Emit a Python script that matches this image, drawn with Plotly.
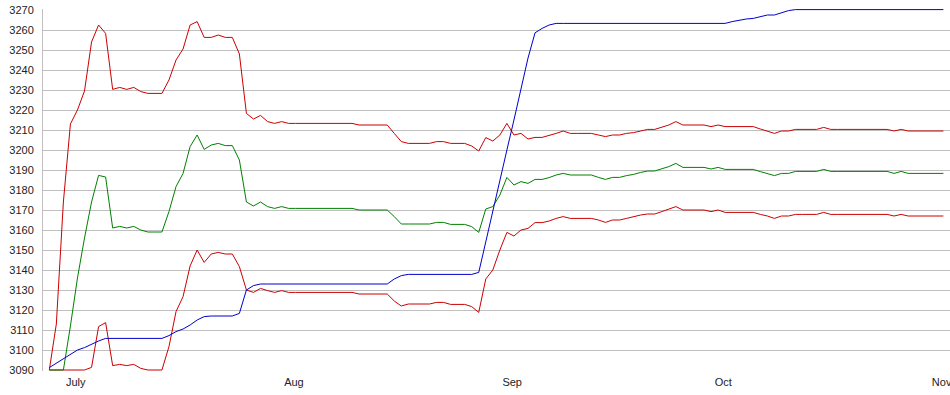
import pandas as pd
import plotly.graph_objects as go

# ---- data ----
start_day = "2013-06-27 12:00"
n_days = 128

upper = [
    3090, 3113, 3174, 3213, 3220, 3229.5, 3254, 3262.5, 3258.3, 3230.3,
    3231.3, 3230.3, 3231.3, 3229.2, 3228.3, 3228.3, 3228.3, 3235, 3245, 3250.5,
    3262.5, 3264.2, 3256.3, 3256.3, 3257.5, 3256.3, 3256.3, 3248, 3218.3, 3215.5,
    3217.3, 3214.2, 3213.3, 3214.2, 3213.3, 3213.3, 3213.3, 3213.3, 3213.3, 3213.3,
    3213.3, 3213.3, 3213.3, 3213.3, 3212.5, 3212.5, 3212.5, 3212.5, 3212.5, 3208.3,
    3204.2, 3203.3, 3203.3, 3203.3, 3203.3, 3204.2, 3204.2, 3203.3, 3203.3, 3203.3,
    3202, 3199.5, 3206.2, 3204.5, 3207.5, 3213.3, 3207.5, 3208.3, 3205.5, 3206.3,
    3206.3, 3207.2, 3208.3, 3209.5, 3208.3, 3208.3, 3208.3, 3208.3, 3207.5, 3206.7,
    3207.5, 3207.5, 3208.3, 3208.7, 3209.5, 3210.3, 3210.3, 3211.3, 3212.5, 3214.2,
    3212.5, 3212.5, 3212.5, 3212.5, 3211.7, 3212.5, 3211.7, 3211.7, 3211.7, 3211.7,
    3211.7, 3210.5, 3209.5, 3208.3, 3209.5, 3209.5, 3210.3, 3210.3, 3210.3, 3210.3,
    3211.3, 3210.3, 3210.3, 3210.3, 3210.3, 3210.3, 3210.3, 3210.3, 3210.3, 3210.3,
    3209.5, 3210.3, 3209.5, 3209.5, 3209.5, 3209.5, 3209.5, 3209.5,
]

middle = [
    3090, 3090, 3090, 3112, 3136, 3156, 3174, 3187.3, 3186.5, 3161,
    3161.8, 3161, 3161.8, 3160, 3159, 3159, 3159, 3169.2, 3181.7, 3188.3,
    3201.7, 3207.5, 3200.3, 3202.5, 3203.3, 3202.2, 3202.2, 3195, 3174, 3172,
    3174, 3171.7, 3170.8, 3171.7, 3170.8, 3170.8, 3170.8, 3170.8, 3170.8, 3170.8,
    3170.8, 3170.8, 3170.8, 3170.8, 3170, 3170, 3170, 3170, 3170, 3166.7,
    3163, 3163, 3163, 3163, 3163, 3163.8, 3163.8, 3162.8, 3162.8, 3162.8,
    3161.7, 3158.8, 3170.5, 3171.7, 3177.5, 3186.3, 3182.5, 3184.2, 3183.3, 3185.3,
    3185.3, 3186.2, 3187.5, 3188.3, 3187.5, 3187.5, 3187.5, 3187.5, 3186.3, 3185.3,
    3186.3, 3186.3, 3187.2, 3187.8, 3188.8, 3189.5, 3189.5, 3190.5, 3191.7, 3193.3,
    3191.3, 3191.3, 3191.3, 3191.3, 3190.5, 3191.3, 3190.3, 3190.3, 3190.3, 3190.3,
    3190.3, 3189.2, 3188.3, 3187.2, 3188.3, 3188.3, 3189.3, 3189.3, 3189.3, 3189.3,
    3190.3, 3189.3, 3189.3, 3189.3, 3189.3, 3189.3, 3189.3, 3189.3, 3189.3, 3189.3,
    3188.3, 3189.3, 3188.3, 3188.3, 3188.3, 3188.3, 3188.3, 3188.3,
]

lower = [
    3090, 3090, 3090, 3090, 3090, 3090, 3091.3, 3111.7, 3113.7, 3092.2,
    3092.8, 3092.2, 3092.8, 3090.8, 3090, 3090, 3090, 3101.7, 3119.2, 3126.7,
    3142, 3150, 3143.8, 3148, 3148.8, 3148, 3148, 3141.7, 3130, 3128.8,
    3130.8, 3129.7, 3128.8, 3129.7, 3128.8, 3128.8, 3128.8, 3128.8, 3128.8, 3128.8,
    3128.8, 3128.8, 3128.8, 3128.8, 3128, 3128, 3128, 3128, 3128, 3124.5,
    3122, 3123, 3123, 3123, 3123, 3123.8, 3123.8, 3122.8, 3122.8, 3122.8,
    3121.7, 3118.8, 3135.5, 3140, 3150, 3158.8, 3157, 3160, 3160.8, 3163.7,
    3163.7, 3164.5, 3165.8, 3166.7, 3165.8, 3165.8, 3165.8, 3165.8, 3165, 3163.8,
    3165, 3165, 3165.8, 3166.7, 3167.5, 3168, 3168, 3169.2, 3170.3, 3171.7,
    3170, 3170, 3170, 3170, 3169.2, 3170, 3168.8, 3168.8, 3168.8, 3168.8,
    3168.8, 3167.8, 3167, 3165.8, 3167, 3167, 3167.8, 3167.8, 3167.8, 3167.8,
    3168.8, 3167.8, 3167.8, 3167.8, 3167.8, 3167.8, 3167.8, 3167.8, 3167.8, 3167.8,
    3167, 3167.8, 3167, 3167, 3167, 3167, 3167, 3167,
]

blue = [
    3091.2, 3093.3, 3095.5, 3097.8, 3100, 3101.2, 3103, 3104.5, 3105.8, 3105.8,
    3105.8, 3105.8, 3105.8, 3105.8, 3105.8, 3105.8, 3105.8, 3107.2, 3109.2, 3110.5,
    3112.5, 3115, 3116.7, 3117, 3117, 3117, 3117, 3118.3, 3130, 3132.2,
    3133, 3133, 3133, 3133, 3133, 3133, 3133, 3133, 3133, 3133,
    3133, 3133, 3133, 3133, 3133, 3133, 3133, 3133, 3133, 3135.5,
    3137.2, 3137.8, 3137.8, 3137.8, 3137.8, 3137.8, 3137.8, 3137.8, 3137.8, 3137.8,
    3137.8, 3138.8, 3154.5, 3169.8, 3184.8, 3200, 3215, 3230, 3246, 3258.6,
    3260.8, 3262.5, 3263.3, 3263.3, 3263.3, 3263.3, 3263.3, 3263.3, 3263.3, 3263.3,
    3263.3, 3263.3, 3263.3, 3263.3, 3263.3, 3263.3, 3263.3, 3263.3, 3263.3, 3263.3,
    3263.3, 3263.3, 3263.3, 3263.3, 3263.3, 3263.3, 3263.3, 3264.2, 3265, 3265.5,
    3265.8, 3266.7, 3267.5, 3267.5, 3268.7, 3269.7, 3270.2, 3270.2, 3270.2, 3270.2,
    3270.2, 3270.2, 3270.2, 3270.2, 3270.2, 3270.2, 3270.2, 3270.2, 3270.2, 3270.2,
    3270.2, 3270.2, 3270.2, 3270.2, 3270.2, 3270.2, 3270.2, 3270.2,
]

month_ticks = ["2013-07-01", "2013-08-01", "2013-09-01", "2013-10-01", "2013-11-01"]
month_labels = ["July", "Aug", "Sep", "Oct", "Nov"]
y_ticks = list(range(3090, 3271, 10))

# ---- figure ----
dates = pd.date_range(start=start_day, periods=n_days, freq="D")
t0 = pd.Timestamp(start_day)
x_range = [t0 - pd.Timedelta(days=0.895), t0 + pd.Timedelta(days=127.94)]
# labels sit slightly right of the month boundary in the reference
tick_pos = [pd.Timestamp(m) + pd.Timedelta(hours=6) for m in month_ticks]

RED = "#cc0000"
GREEN = "#008000"
BLUE = "#0000cc"

fig = go.Figure()
for series, color in [(upper, RED), (lower, RED), (middle, GREEN), (blue, BLUE)]:
    fig.add_trace(go.Scatter(
        x=dates, y=series, mode="lines",
        line=dict(color=color, width=1),
        hoverinfo="skip", showlegend=False,
    ))

fig.update_layout(
    width=950, height=395,
    margin=dict(l=43, r=0, t=9, b=24, pad=0),
    paper_bgcolor="white", plot_bgcolor="white",
    font=dict(family="Liberation Sans, Arial, sans-serif", size=11, color="#222222"),
    showlegend=False,
)
fig.update_xaxes(
    type="date", range=x_range,
    tickmode="array", tickvals=tick_pos, ticktext=month_labels,
    showgrid=False, zeroline=False, showline=False,
    ticks="", ticklabelstandoff=3, automargin=False,
    ticklabeloverflow="allow",
)
fig.update_yaxes(
    range=[3089.5, 3270.5],
    tickmode="array", tickvals=y_ticks,
    showgrid=True, gridcolor="#c0c0c0", gridwidth=1,
    zeroline=False, showline=True, linecolor="#c0c0c0", linewidth=1,
    ticks="", ticklabelstandoff=6, automargin=False,
)

fig.write_html(
    "out.html",
    config={"displayModeBar": False, "staticPlot": True},
    post_script="document.body.style.margin='0px';document.body.style.overflow='hidden';",
)
